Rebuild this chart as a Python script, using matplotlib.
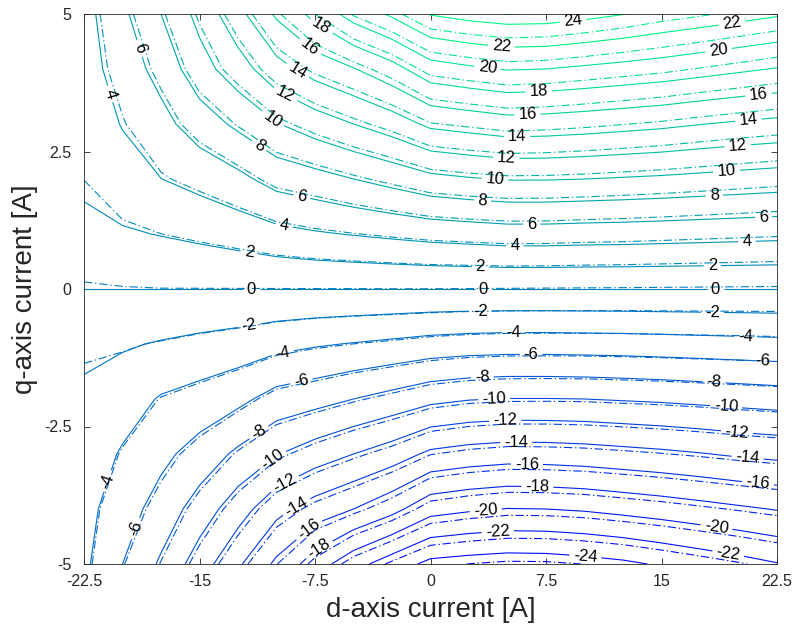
import numpy as np
import matplotlib
matplotlib.use('Agg')
import matplotlib.pyplot as plt

plt.rcParams['font.family'] = ['Liberation Sans Narrow', 'Liberation Sans', 'DejaVu Sans']
plt.rcParams['lines.scale_dashes'] = False

# grid of the torque maps
i_d = [-22.5, -20, -17.5, -15, -12.5, -10, -7.5, -5, -2.5, 0, 2.5, 5, 7.5, 10, 12.5, 15, 17.5, 20, 22.5]
i_q = [-5, -4, -3, -2, -1, 0, 1, 2, 3, 4, 5]

# torque [Nm] (solid contours), one list per d-axis current, ordered along i_q
torque_solid = [
    [-3.6, -3.35, -2.85, -2.4, -1.5, 0, 1.5, 2.35, 2.85, 3.15, 3.3],
    [-6.0, -5.1, -4.2, -3.1, -1.8, 0, 1.78, 3.2, 4.1, 4.9, 5.6],
    [-8.3, -6.8, -5.5, -4.17, -2.15, 0, 2.08, 3.98, 5.37, 6.7, 8.0],
    [-11.0, -8.9, -6.8, -4.75, -2.5, 0, 2.44, 4.65, 7.0, 9.2, 10.6],
    [-13.7, -11.1, -8.4, -5.5, -2.86, 0, 2.86, 5.5, 8.4, 11.1, 13.4],
    [-16.4, -13.4, -9.9, -6.75, -3.4, 0, 3.4, 6.75, 9.9, 13.3, 16.3],
    [-19.0, -14.9, -11.0, -7.3, -3.8, 0, 3.8, 7.3, 11.0, 14.8, 18.6],
    [-21.3, -16.0, -12.0, -8.0, -4.1, 0, 4.1, 8.0, 12.0, 15.9, 20.8],
    [-23.0, -17.4, -13.0, -8.7, -4.4, 0, 4.4, 8.7, 13.0, 17.3, 22.3],
    [-24.5, -19.3, -14.4, -9.5, -4.75, 0, 4.7, 9.5, 14.4, 19.2, 24.1],
    [-24.8, -19.75, -14.85, -9.9, -4.95, 0, 4.9, 9.85, 14.8, 19.7, 24.6],
    [-25.0, -20.05, -15.1, -10.05, -5.05, 0, 5.1, 10.1, 15.2, 20.1, 24.9],
    [-24.95, -20.0, -15.05, -10.05, -5.05, 0, 5.1, 10.1, 15.1, 20.0, 24.85],
    [-24.7, -19.8, -14.9, -10.0, -5.0, 0, 5.0, 10.0, 14.9, 19.7, 24.5],
    [-24.35, -19.45, -14.65, -9.85, -4.95, 0, 4.95, 9.85, 14.65, 19.4, 24.05],
    [-23.8, -19.1, -14.4, -9.7, -4.85, 0, 4.85, 9.7, 14.4, 19.1, 23.5],
    [-23.25, -18.7, -14.1, -9.5, -4.75, 0, 4.75, 9.5, 14.05, 18.7, 23.1],
    [-22.7, -18.3, -13.75, -9.3, -4.65, 0, 4.65, 9.3, 13.75, 18.3, 22.65],
    [-22.1, -17.9, -13.5, -9.1, -4.55, 0, 4.55, 9.1, 13.5, 17.9, 22.2],
]

# torque [Nm] (dash-dot contours)
torque_dashdot = [
    [-3.5, -3.3, -2.85, -2.55, -1.7, -0.17, 1.15, 2.02, 2.6, 2.95, 3.05],
    [-5.87, -5.0, -4.13, -3.07, -1.82, -0.08, 1.64, 3.01, 3.88, 4.65, 5.32],
    [-8.08, -6.63, -5.37, -4.07, -2.12, -0.03, 1.99, 3.83, 5.18, 6.47, 7.73],
    [-10.7, -8.66, -6.63, -4.64, -2.46, -0.03, 2.34, 4.48, 6.76, 8.89, 10.25],
    [-13.32, -10.8, -8.18, -5.37, -2.8, -0.03, 2.74, 5.31, 8.12, 10.74, 12.97],
    [-15.94, -13.03, -9.63, -6.58, -3.33, -0.03, 3.27, 6.52, 9.57, 12.87, 15.78],
    [-18.46, -14.48, -10.7, -7.11, -3.72, -0.03, 3.66, 7.05, 10.64, 14.33, 18.01],
    [-20.69, -15.55, -11.67, -7.79, -4.01, -0.03, 3.95, 7.73, 11.61, 15.39, 20.15],
    [-22.28, -16.86, -12.6, -8.44, -4.28, -0.02, 4.24, 8.4, 12.56, 16.73, 21.57],
    [-23.71, -18.68, -13.94, -9.21, -4.61, -0.02, 4.52, 9.17, 13.9, 18.55, 23.28],
    [-24.02, -19.14, -14.4, -9.61, -4.83, -0.04, 4.7, 9.49, 14.27, 19.01, 23.75],
    [-24.24, -19.45, -14.66, -9.78, -4.94, -0.06, 4.87, 9.71, 14.64, 19.38, 24.02],
    [-24.21, -19.42, -14.63, -9.8, -4.96, -0.08, 4.85, 9.69, 14.52, 19.26, 23.95],
    [-23.98, -19.25, -14.51, -9.77, -4.94, -0.1, 4.74, 9.57, 14.31, 18.95, 23.59],
    [-23.67, -18.93, -14.29, -9.64, -4.91, -0.12, 4.67, 9.41, 14.05, 18.64, 23.14],
    [-23.15, -18.61, -14.06, -9.52, -4.83, -0.14, 4.55, 9.24, 13.78, 18.33, 22.58],
    [-22.64, -18.24, -13.79, -9.35, -4.75, -0.16, 4.43, 9.03, 13.43, 17.92, 22.18],
    [-22.13, -17.88, -13.48, -9.17, -4.68, -0.18, 4.32, 8.81, 13.12, 17.52, 21.72],
    [-21.57, -17.51, -13.25, -9.0, -4.6, -0.2, 4.2, 8.6, 12.85, 17.11, 21.27],
]

levels = np.arange(-24, 25, 2)
x_ticks = [-22.5, -15, -7.5, 0, 7.5, 15, 22.5]
x_ticklabels = ['-22.5', '-15', '-7.5', '0', '7.5', '15', '22.5']
y_ticks = [-5, -2.5, 0, 2.5, 5]
y_ticklabels = ['-5', '-2.5', '0', '2.5', '5']

fig = plt.figure(figsize=(7.93, 6.32), dpi=100, facecolor='white')
ax = fig.add_axes([84/793, 68/632, 693/793, 550/632])

D, Q = np.meshgrid(i_d, i_q)
norm = plt.Normalize(-25, 25)
cs_dd = ax.contour(D, Q, np.array(torque_dashdot).T, levels=levels, cmap='winter', norm=norm,
                   linewidths=0.8, linestyles=[(0, (6, 2, 1, 2))])
cs = ax.contour(D, Q, np.array(torque_solid).T, levels=levels, cmap='winter', norm=norm,
                linewidths=0.8, linestyles='solid')
ax.set_xlim(-22.5, 22.5)
ax.set_ylim(-5, 5)


## LABELS - spaced along each line like matlab clabel
def label_spots(cset, spacing=232, ratio=0.73, margin=10):
    spots = []
    to_px = ax.transData
    x0, y0, x1, y1 = ax.bbox.extents
    for path in cset.get_paths():
        v = path.vertices
        if len(v) == 0:
            continue
        c = path.codes
        starts = [0] if c is None else list(np.flatnonzero(c == 1))
        bounds = starts + [len(v)]
        for a, b in zip(bounds[:-1], bounds[1:]):
            seg = to_px.transform(v[a:b])
            if len(seg) < 2:
                continue
            if seg[-1, 0] < seg[0, 0]:
                seg = seg[::-1]
            dist = np.concatenate([[0], np.cumsum(np.hypot(*np.diff(seg, axis=0).T))])
            L = dist[-1]
            if L < 40:
                continue
            n = int((L - 20) // spacing)
            first = ratio * (L - n * spacing)
            for s in first + spacing * np.arange(n + 1):
                px = np.interp(s, dist, seg[:, 0])
                py = np.interp(s, dist, seg[:, 1])
                # skip labels squeezed against the left/right frame
                if px < x0 + margin or px > x1 - margin:
                    continue
                spots.append(tuple(to_px.inverted().transform((px, py))))
    return spots

spots = label_spots(cs)
txt = cs.clabel(cs.levels, manual=spots, inline=True, inline_spacing=4, fmt='%d', fontsize=12, colors='k')
for t in txt:
    t.set_fontfamily(['Liberation Sans', 'DejaVu Sans'])

ax.set_xticks(x_ticks)
ax.set_xticklabels(x_ticklabels)
ax.set_yticks(y_ticks)
ax.set_yticklabels(y_ticklabels)
ax.tick_params(direction='in', top=True, right=True, length=4, width=0.6, colors='0.15', labelsize=11.5)
ax.tick_params(axis='x', pad=7)
ax.tick_params(axis='y', pad=9)
for s in ax.spines.values():
    s.set_color('0.15')
    s.set_linewidth(0.6)

plt.xlabel('d-axis current [A]', fontsize=20, color='0.15', labelpad=6)
plt.ylabel('q-axis current [A]', fontsize=20, color='0.15', labelpad=4)

plt.savefig('out.png', dpi=100, facecolor='white')
